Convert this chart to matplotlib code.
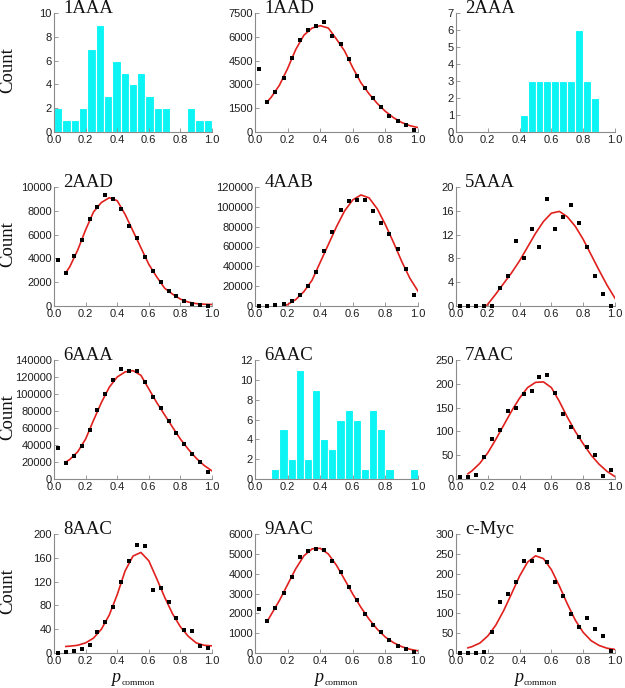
import matplotlib
matplotlib.use("Agg")
import matplotlib.pyplot as plt
import numpy as np

plt.rcParams['font.family'] = ['Liberation Sans', 'DejaVu Sans']

# ---------------- data ----------------
p_centers = [0.025, 0.075, 0.125, 0.175, 0.225, 0.275, 0.325, 0.375, 0.425, 0.475,
             0.525, 0.575, 0.625, 0.675, 0.725, 0.775, 0.825, 0.875, 0.925, 0.975]
fit_x = [0.075, 0.1, 0.15, 0.2, 0.25, 0.3, 0.35, 0.4, 0.45, 0.5,
         0.55, 0.6, 0.65, 0.7, 0.75, 0.8, 0.85, 0.9, 0.95, 1.0]
fit_x_late = [0.18, 0.2, 0.25, 0.3, 0.35, 0.4, 0.45, 0.5, 0.55,
              0.6, 0.65, 0.7, 0.75, 0.8, 0.85, 0.9, 0.95, 1.0]

# histograms
hist_1AAA = [2, 1, 1, 2, 7, 9, 3, 6, 5, 4, 5, 3, 2, 2, 0, 0, 2, 1, 1]   # 19 equal bins on [0, 1]
hist_1AAA_range = (0.0, 1.0)
hist_2AAA = [1, 3, 3, 3, 3, 3, 3, 6, 3, 2]                               # bins of 0.05 from 0.40
hist_2AAA_start = 0.40
hist_6AAC = [1, 5, 2, 11, 2, 9, 4, 3, 6, 7, 6, 1, 7, 5, 1, 0, 0, 1]      # bins of 0.05 from 0.10
hist_6AAC_start = 0.10
hist_width = 0.05

# scatter counts + fitted curves
dots_1AAD = [4000, 1900, 2550, 3380, 4675, 5820, 6420, 6690, 6950, 6055,
             5570, 4570, 3500, 2760, 2170, 1550, 1020, 680, 425, 110]
fit_1AAD = [1900, 2200, 2950, 4000, 5200, 6100, 6550, 6700, 6550, 5850,
            5100, 4050, 3100, 2400, 1800, 1300, 900, 600, 400, 280]

dots_2AAD = [3900, 2800, 4200, 5570, 7310, 8320, 9300, 8960, 8180, 6720,
             5710, 4090, 2940, 2040, 1290, 810, 390, 200, 80, 30]
fit_2AAD = [2800, 3300, 4700, 6400, 7900, 8700, 9100, 8850, 7700, 6300,
            4900, 3500, 2450, 1500, 1000, 580, 330, 200, 150, 130]

dots_4AAB = [0, 0, 800, 1800, 5350, 11000, 19700, 34100, 55150, 74500,
             97000, 106300, 107000, 107300, 96000, 84200, 72900, 57800, 37100, 11000]
fit_4AAB = [0, 1500, 6500, 14500, 26000, 44000, 62000, 80000, 96000,
            107000, 112000, 109000, 98000, 82000, 64000, 45000, 28000, 15000]

dots_5AAA = [0, 0, 0, 0, 0, 3, 5, 11, 8, 13, 10, 18, 13, 15, 17, 14, 10, 5, 2, 0]
fit_5AAA = [0, 0.3, 2.0, 3.8, 5.6, 7.6, 9.9, 12.2, 14.2,
            15.6, 15.9, 15.0, 13.4, 11.2, 8.6, 6.0, 3.5, 1.3]

dots_6AAA = [36400, 19400, 27300, 38750, 58100, 81000, 100000, 115900, 129300, 126500,
             126500, 114700, 96900, 83400, 68000, 54200, 41100, 29700, 19800, 8300]
fit_6AAA = [20000, 23000, 32000, 47000, 69000, 90000, 108000, 120000, 126000, 127500,
            122000, 106000, 90000, 75500, 61000, 47000, 35000, 24500, 16000, 9500]

dots_7AAC = [5, 4, 9, 47, 83, 102, 142, 150, 178, 184,
             215, 219, 181, 137, 110, 89, 68, 51, 7, 19]
fit_7AAC = [11, 17, 33, 55, 83, 113, 143, 170, 192, 203,
            204, 192, 163, 130, 100, 74, 50, 31, 16, 5]

dots_8AAC = [0, 2, 4, 6, 14, 35, 52, 78, 120, 155,
             181, 179, 106, 109, 85, 59, 38, 37, 11, 8]
fit_8AAC = [11, 11.5, 13, 17, 25, 40, 64, 98, 138, 163,
            169, 155, 125, 94, 66, 44, 28, 17, 13, 12]

dots_9AAC = [2230, 1590, 2280, 3050, 3840, 4830, 5160, 5230, 5210, 4640,
             4100, 3320, 2650, 1980, 1420, 1040, 650, 370, 200, 70]
fit_9AAC = [1600, 1950, 2650, 3450, 4250, 4900, 5250, 5280, 4990, 4420,
            3700, 2970, 2300, 1700, 1200, 800, 520, 320, 190, 110]

dots_cMyc = [0, 0, 0, 2, 54, 129, 149, 178, 231, 231,
             259, 229, 178, 143, 98, 65, 89, 61, 42, 6]
fit_cMyc = [13, 16, 25, 43, 70, 107, 150, 194, 229, 245,
            238, 210, 169, 124, 83, 52, 31, 19, 12, 9]

titles = ["1AAA", "1AAD", "2AAA", "2AAD", "4AAB", "5AAA",
          "6AAA", "6AAC", "7AAC", "8AAC", "9AAC", "c-Myc"]
y_max = [10, 7500, 7, 10000, 120000, 20, 140000, 12, 250, 200, 6000, 300]
y_step = [2, 1500, 1, 2000, 20000, 4, 20000, 2, 50, 40, 1000, 50]
x_ticks = [0.0, 0.2, 0.4, 0.6, 0.8, 1.0]

# ---------------- style ----------------
CYAN = '#0CF4F4'
RED = '#E0201C'
AXCOL = '#8a8a8a'
TXT = '#1e1e1e'
W, H = 625, 688

fig = plt.figure(figsize=(W / 100, H / 100), dpi=100)

col_left = [54, 255, 456]
col_w = [158, 163, 159]
row_bottom = [132, 306, 479, 653]
row_h = 119

axes = []
for r in range(4):
    for c in range(3):
        ax = fig.add_axes([col_left[c] / W, 1 - row_bottom[r] / H, col_w[c] / W, row_h / H])
        axes.append(ax)


def style(ax, i):
    ax.set_xlim(0, 1)
    ax.set_ylim(0, y_max[i])
    for s in ['top', 'right']:
        ax.spines[s].set_visible(False)
    for s in ['left', 'bottom']:
        ax.spines[s].set_color(AXCOL)
        ax.spines[s].set_linewidth(0.8)
    ax.set_xticks(x_ticks)
    ax.set_xticklabels([f"{v:.1f}" for v in x_ticks])
    yt = np.arange(0, y_max[i] + 1e-9, y_step[i])
    ax.set_yticks(yt)
    ax.set_yticklabels([f"{int(v)}" for v in yt])
    ax.tick_params(direction='in', length=3, width=0.6, color=AXCOL,
                   labelsize=8, labelcolor=TXT)
    ax.tick_params(axis='y', pad=1.5)
    ax.tick_params(axis='x', pad=2.5)
    ax.patch.set_alpha(0)
    ax.text(0.057, 1.0, titles[i], transform=ax.transAxes, ha='left', va='baseline',
            fontfamily='Liberation Serif', fontsize=13.5, color='#111111')


def scatter_fit(ax, dots, fx, fy):
    ax.plot(fx, fy, color=RED, lw=1.2, zorder=2)
    ax.plot(p_centers, dots, ls='none', marker='s', ms=2.4, mew=0, color='black',
            clip_on=False, zorder=3)


# 1AAA
n = len(hist_1AAA)
edges = np.linspace(hist_1AAA_range[0], hist_1AAA_range[1], n + 1)
axes[0].bar(edges[:-1], hist_1AAA, width=edges[1] - edges[0], align='edge',
            color=CYAN, edgecolor='white', linewidth=0.8)
# 1AAD
scatter_fit(axes[1], dots_1AAD, fit_x, fit_1AAD)
# 2AAA
axes[2].bar(hist_2AAA_start + hist_width * np.arange(len(hist_2AAA)), hist_2AAA,
            width=hist_width, align='edge', color=CYAN, edgecolor='white', linewidth=0.8)
# 2AAD
scatter_fit(axes[3], dots_2AAD, fit_x, fit_2AAD)
# 4AAB
scatter_fit(axes[4], dots_4AAB, fit_x_late, fit_4AAB)
# 5AAA
scatter_fit(axes[5], dots_5AAA, [0.19] + fit_x_late[1:], fit_5AAA)
# 6AAA
scatter_fit(axes[6], dots_6AAA, fit_x, fit_6AAA)
# 6AAC
axes[7].bar(hist_6AAC_start + hist_width * np.arange(len(hist_6AAC)), hist_6AAC,
            width=hist_width, align='edge', color=CYAN, edgecolor='white', linewidth=0.8)
# 7AAC
scatter_fit(axes[8], dots_7AAC, fit_x, fit_7AAC)
# 8AAC
scatter_fit(axes[9], dots_8AAC, fit_x, fit_8AAC)
# 9AAC
scatter_fit(axes[10], dots_9AAC, fit_x, fit_9AAC)
# c-Myc
scatter_fit(axes[11], dots_cMyc, fit_x, fit_cMyc)

for i, ax in enumerate(axes):
    style(ax, i)

# Count labels
for r in range(4):
    yc = 1 - (row_bottom[r] - row_h / 2 - 2) / H
    fig.text(8 / W, yc, 'Count', rotation=90, ha='center', va='center',
             fontfamily='Liberation Serif', fontsize=13.5, color='#111111')

# p_common labels
for ax in axes[9:]:
    ax.text(0.42, -0.245, 'p', transform=ax.transAxes, ha='right', va='baseline',
            fontfamily='Liberation Serif', fontstyle='italic', fontsize=13, color='#111111')
    ax.text(0.425, -0.27, 'common', transform=ax.transAxes, ha='left', va='baseline',
            fontfamily='Liberation Serif', fontsize=6.8, color='#111111')

fig.savefig('out.png', dpi=100, facecolor='white')
